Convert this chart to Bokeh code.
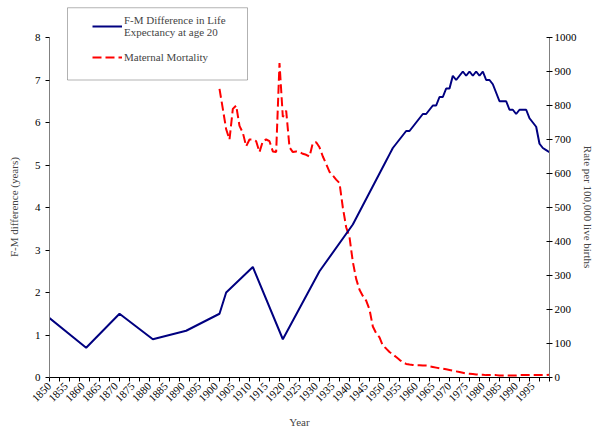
import math
from bokeh.plotting import figure
from bokeh.models import (Range1d, LinearAxis, FixedTicker, Legend, LegendItem,
                          BoxAnnotation)
from bokeh.embed import file_html
from bokeh.resources import INLINE

# Female-minus-male difference in life expectancy at age 20 (years)
fm_years = [1850, 1861, 1871, 1881, 1891, 1901, 1903, 1911, 1920, 1931, 1941,
            1951, 1952, 1953, 1954, 1955, 1956, 1957, 1958, 1959, 1960,
            1961, 1962, 1963, 1964, 1965, 1966, 1967, 1968, 1969, 1970,
            1971, 1972, 1973, 1974, 1975, 1976, 1977, 1978, 1979, 1980,
            1981, 1982, 1983, 1984, 1985, 1986, 1987, 1988, 1989, 1990,
            1991, 1992, 1993, 1994, 1995, 1996, 1997, 1998, 1999, 2000]
fm_diff = [1.4, 0.7, 1.5, 0.9, 1.1, 1.5, 2.0, 2.6, 0.9, 2.5, 3.6,
           5.1, 5.25, 5.4, 5.5, 5.6, 5.7, 5.8, 5.8, 5.9, 6.0,
           6.1, 6.2, 6.2, 6.3, 6.4, 6.4, 6.6, 6.6, 6.8, 6.8,
           7.1, 7.0, 7.1, 7.2, 7.1, 7.2, 7.1, 7.2, 7.1, 7.2,
           7.0, 7.0, 6.9, 6.7, 6.5, 6.5, 6.5, 6.3, 6.3, 6.2,
           6.3, 6.3, 6.3, 6.1, 6.0, 5.9, 5.5, 5.4, 5.35, 5.3]

# Maternal mortality, deaths per 100,000 live births
mm_years = list(range(1901, 2001))
mm_rate = [849, 790, 730, 700, 790, 800, 740, 720, 680, 700,
           700, 695, 663, 695, 700, 695, 665, 663, 925, 766,
           785, 677, 663, 665, 663, 658, 655, 650, 690, 692,
           677, 650, 628, 605, 594, 582, 572, 500, 442, 413,
           340, 290, 258, 240, 226, 200, 150, 130, 118, 94,
           85, 75, 68, 60, 52, 45, 40, 38, 37, 36,
           36, 35, 35, 33, 31, 29, 27, 26, 24, 22,
           20, 18, 16, 14, 12, 11, 10, 9, 8, 8,
           7, 7, 7, 7, 6, 6, 6, 6, 6, 6,
           7, 7, 7, 7, 7, 7, 7, 7, 7, 8]

x_labels = list(range(1850, 1996, 5))
x_marks = list(range(1850, 2001, 3))
left_ticks = list(range(0, 9))
right_ticks = list(range(0, 1001, 100))

FONT = "Liberation Serif"
# no-break spaces keep the axis titles centred on the 0-8 span
# rather than on the taller frame
NBSP = "\u00a0" * 11

# The frame reaches above the top tick so the legend can sit there;
# the axis lines themselves stop at 8 and 1000.
TOP_PAD = 31 / 42.5
p = figure(width=597, height=431, output_backend="svg", toolbar_location=None,
           x_range=Range1d(1850, 2000), y_range=Range1d(0, 8 + TOP_PAD),
           min_border_left=49, min_border_right=48, min_border_top=6,
           min_border_bottom=54)
p.outline_line_color = None
p.xgrid.visible = False
p.ygrid.visible = False
p.background_fill_color = "white"
p.border_fill_color = "white"

p.extra_y_ranges = {"mm": Range1d(0, 1000 * (8 + TOP_PAD) / 8)}

# bottom axis: labels every 5 years, tick marks every 3 years
xa = p.xaxis[0]
xa.ticker = FixedTicker(ticks=x_labels, minor_ticks=x_marks)
xa.major_tick_out = 0
xa.major_tick_in = 0
xa.minor_tick_out = 4
xa.minor_tick_in = 0
xa.minor_tick_line_color = "black"
xa.axis_line_color = "black"
xa.major_label_orientation = math.pi / 4
xa.major_label_text_font = FONT
xa.major_label_text_font_size = "11px"
xa.major_label_text_color = "black"
xa.major_label_standoff = 3
xa.axis_label = "Year"
xa.axis_label_text_font = FONT
xa.axis_label_text_font_size = "11px"
xa.axis_label_text_font_style = "normal"
xa.axis_label_standoff = 8

ya = p.yaxis[0]
ya.ticker = FixedTicker(ticks=left_ticks)
ya.bounds = (0, 8)
ya.minor_tick_line_color = None
ya.major_tick_out = 4
ya.major_tick_in = 0
ya.axis_line_color = "#808080"
ya.major_tick_line_color = "black"
ya.major_label_text_font = FONT
ya.major_label_text_font_size = "11px"
ya.major_label_text_color = "black"
ya.major_label_standoff = 5
ya.axis_label = "F-M difference (years)" + NBSP
ya.axis_label_text_font = FONT
ya.axis_label_text_font_size = "11px"
ya.axis_label_text_font_style = "normal"
ya.axis_label_standoff = 12

ra = LinearAxis(y_range_name="mm", ticker=FixedTicker(ticks=right_ticks))
ra.bounds = (0, 1000)
ra.minor_tick_line_color = None
ra.major_tick_out = 3
ra.major_tick_in = 3
ra.axis_line_color = "#808080"
ra.major_tick_line_color = "black"
ra.major_label_text_font = FONT
ra.major_label_text_font_size = "11px"
ra.major_label_text_color = "black"
ra.major_label_standoff = 2
ra.axis_label = NBSP + "Rate per 100,000 live births"
ra.axis_label_text_font = FONT
ra.axis_label_text_font_size = "11px"
ra.axis_label_text_font_style = "normal"
ra.axis_label_standoff = 2
p.add_layout(ra, "right")

mm_line = p.line(mm_years, mm_rate, y_range_name="mm", line_color="#FF0000",
                 line_width=2, line_dash="9 4")
fm_line = p.line(fm_years, fm_diff, line_color="#000080", line_width=2)

# legend frame, from ~1855 to ~1909 and from 7 up to the top edge
legend_box = BoxAnnotation(left=1855.4, right=1909.4, bottom=7.0, top=8.7,
                           fill_color="white", fill_alpha=1,
                           line_color="black", line_width=1)
p.add_layout(legend_box)

legend = Legend(items=[
    LegendItem(label="F-M Difference in Life\nExpectancy at age 20", renderers=[fm_line]),
    LegendItem(label="Maternal Mortality", renderers=[mm_line]),
], location=(43, 310))
legend.border_line_color = None
legend.background_fill_alpha = 0
legend.label_text_font = FONT
legend.label_text_font_size = "11px"
legend.label_text_line_height = 1.3
legend.glyph_width = 30
legend.label_standoff = 2
legend.spacing = 9
legend.padding = 4
legend.margin = 0
p.add_layout(legend, "center")

open("out.html", "w").write(file_html(p, INLINE))
